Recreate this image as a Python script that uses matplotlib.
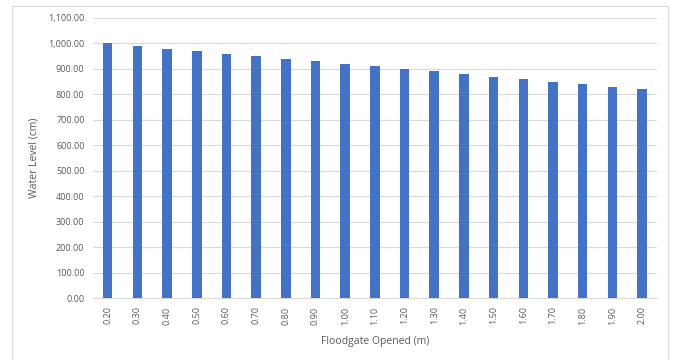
import matplotlib
matplotlib.use("Agg")
import matplotlib.pyplot as plt
import matplotlib.patches as mpatches
from matplotlib.ticker import FuncFormatter

# floodgate opening (m) vs resulting water level (cm)
gate_open = ["0.20", "0.30", "0.40", "0.50", "0.60", "0.70", "0.80", "0.90", "1.00", "1.10",
             "1.20", "1.30", "1.40", "1.50", "1.60", "1.70", "1.80", "1.90", "2.00"]
water_level = [1000, 990, 980, 970, 960, 950, 940, 930, 920, 910,
               900, 890, 880, 870, 860, 850, 840, 830, 820]

plt.rcParams["font.family"] = ["Open Sans", "DejaVu Sans"]
txt = "#595959"

fig = plt.figure(figsize=(6.73, 3.6), dpi=100)
ax = fig.add_axes([0.138, 0.172, 0.838, 0.778])

x = range(len(gate_open))
ax.bar(x, water_level, width=0.32, color="#4472c4", zorder=3)

ax.set_ylim(0, 1100)
ax.set_yticks(range(0, 1101, 100))
ax.yaxis.set_major_formatter(FuncFormatter(lambda v, p: f"{v:,.2f}"))
ax.set_xlim(-0.5, len(gate_open) - 0.5)
ax.set_xticks(list(x))
ax.set_xticklabels(gate_open, rotation=90)

ax.grid(axis="y", color="#d9d9d9", linewidth=0.8, zorder=0)
for s in ["top", "right", "left"]:
    ax.spines[s].set_visible(False)
ax.spines["bottom"].set_color("#d9d9d9")
ax.tick_params(axis="both", length=0, colors=txt, labelsize=6.5, pad=6)

ax.set_ylabel("Water Level (cm)", color=txt, fontsize=7.5, labelpad=6)
ax.set_xlabel("Floodgate Opened (m)", color=txt, fontsize=7.5, labelpad=8)

# outer chart border (bottom edge runs off the image)
fig.patches.append(mpatches.Rectangle((0.018, -0.05), 0.975, 1.033, transform=fig.transFigure,
                                      fill=False, edgecolor="#d9d9d9", linewidth=0.8))

fig.savefig("out.png", dpi=100)
